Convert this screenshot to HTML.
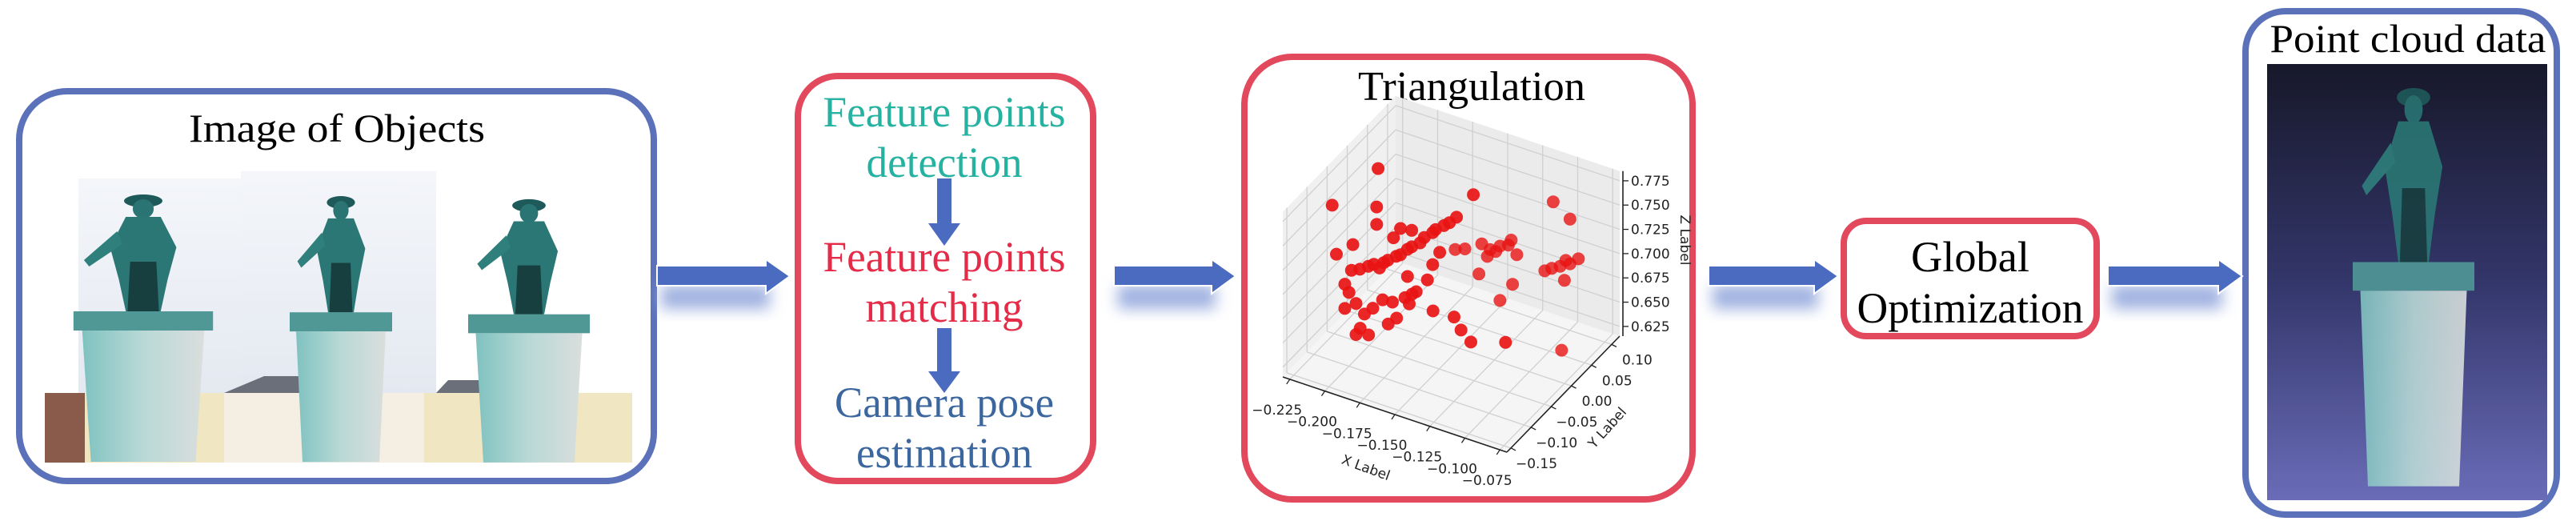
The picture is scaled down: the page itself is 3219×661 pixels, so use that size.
<!DOCTYPE html>
<html><head><meta charset="utf-8"><style>
html,body{margin:0;padding:0;background:#fff;}
svg{display:block;}
</style></head><body>
<svg id="fig" width="3219" height="661" viewBox="0 0 3219 661" xmlns="http://www.w3.org/2000/svg">
<defs>
  <filter id="blur" x="-20%" y="-50%" width="140%" height="200%"><feGaussianBlur stdDeviation="9"/></filter>
  <linearGradient id="sky" x1="0" y1="0" x2="0" y2="1"><stop offset="0" stop-color="#f4f6fa"/><stop offset="1" stop-color="#dfe5ee"/></linearGradient>
  <linearGradient id="ped" x1="0" y1="0" x2="1" y2="0"><stop offset="0" stop-color="#7fc2c0"/><stop offset="0.5" stop-color="#b9d9d6"/><stop offset="1" stop-color="#d9dedd"/></linearGradient>
  <linearGradient id="pc" x1="0" y1="0" x2="0" y2="1"><stop offset="0" stop-color="#17182a"/><stop offset="0.5" stop-color="#33366a"/><stop offset="1" stop-color="#6a6cb8"/></linearGradient>
  <g id="statue">
    <ellipse cx="100" cy="14" rx="22" ry="8" fill="#1f5a5a"/>
    <circle cx="100" cy="24" r="12" fill="#2a7474"/>
    <polygon points="80,34 120,34 138,72 128,112 120,152 80,152 72,112 62,72" fill="#2b7775"/>
    <polygon points="70,52 32,88 38,96 76,68" fill="#2f7f7c"/>
    <polygon points="85,90 115,90 118,152 82,152" fill="#183f40"/>
    <rect x="20" y="152" width="160" height="24" fill="#4f9896"/>
    <polygon points="30,176 170,176 160,340 40,340" fill="url(#ped)"/>
  </g>
</defs>

<rect x="24" y="114" width="793" height="487" rx="60" fill="#fff" stroke="#5b72ba" stroke-width="8"/>
<text x="421" y="177" text-anchor="middle" font-family="Liberation Serif, serif" font-size="50" textLength="370" lengthAdjust="spacingAndGlyphs">Image of Objects</text>
<g>
  <rect x="98" y="223" width="203" height="355" fill="url(#sky)"/>
  <rect x="301" y="214" width="244" height="364" fill="url(#sky)"/>
  <rect x="56" y="491" width="734" height="87" fill="#f1e6c2"/>
  <rect x="56" y="491" width="50" height="87" fill="#8a5a4a"/>
  <polygon points="280,491 330,470 420,470 420,491" fill="#6a6f7a"/>
  <polygon points="545,491 560,475 610,475 630,491" fill="#6a6f7a"/>
  <rect x="280" y="491" width="250" height="87" fill="#f4efe2"/>
  <use href="#statue" transform="translate(70,237) scale(1.09,1)"/>
  <use href="#statue" transform="translate(346,239) scale(0.8,0.995)"/>
  <use href="#statue" transform="translate(566,243) scale(0.95,0.985)"/>
</g>

<rect x="997" y="95" width="369" height="506" rx="50" fill="#fff" stroke="#e2495d" stroke-width="8"/>
<g font-family="Liberation Serif, serif" font-size="54" text-anchor="middle">
<text x="1180" y="158" fill="#26b2a0" textLength="303" lengthAdjust="spacingAndGlyphs">Feature points</text>
<text x="1180" y="221" fill="#26b2a0" textLength="195" lengthAdjust="spacingAndGlyphs">detection</text>
<text x="1180" y="339" fill="#e42c48" textLength="303" lengthAdjust="spacingAndGlyphs">Feature points</text>
<text x="1180" y="402" fill="#e42c48" textLength="197" lengthAdjust="spacingAndGlyphs">matching</text>
<text x="1180" y="521" fill="#3c679e" textLength="274" lengthAdjust="spacingAndGlyphs">Camera pose</text>
<text x="1180" y="584" fill="#3c679e" textLength="220" lengthAdjust="spacingAndGlyphs">estimation</text>
</g>
<g fill="#4a6bbf"><rect x="1171" y="223" width="18" height="58"/><polygon points="1160,279 1200,279 1180,307"/></g>
<g fill="#4a6bbf"><rect x="1171" y="410" width="18" height="56"/><polygon points="1160,464 1200,464 1180,491"/></g>

<rect x="1555" y="71" width="560" height="553" rx="60" fill="#fff" stroke="#e2495d" stroke-width="8"/>
<text x="1839" y="125" text-anchor="middle" font-family="Liberation Serif, serif" font-size="52" textLength="284" lengthAdjust="spacingAndGlyphs">Triangulation</text>
<g id="plot"></g>

<rect x="2304" y="276" width="316" height="144" rx="28" fill="#fff" stroke="#e2495d" stroke-width="8"/>
<text x="2462" y="339" text-anchor="middle" font-family="Liberation Serif, serif" font-size="54" textLength="148" lengthAdjust="spacingAndGlyphs">Global</text>
<text x="2462" y="403" text-anchor="middle" font-family="Liberation Serif, serif" font-size="54" textLength="283" lengthAdjust="spacingAndGlyphs">Optimization</text>

<rect x="2806" y="14" width="389" height="629" rx="50" fill="#fff" stroke="#5b72ba" stroke-width="8"/>
<text x="3009" y="65" text-anchor="middle" font-family="Liberation Serif, serif" font-size="50" textLength="345" lengthAdjust="spacingAndGlyphs">Point cloud data</text>
<g>
  <rect x="2833" y="80" width="350" height="545" fill="url(#pc)"/>
  <use href="#statue" transform="translate(2921,101) scale(0.95,1.49)" opacity="0.9"/>
</g>

<g id="arrows"></g>
</svg>
<script>
const arrowSpans = [[821, 987], [1392, 1544], [2135, 2297], [2634, 2802]];
const NS = 'http://www.w3.org/2000/svg';
const arrowsG = document.getElementById('arrows');
arrowSpans.forEach((s, i) => {
  const g = document.createElementNS(NS, 'g');
  
  
  const sh = document.createElementNS(NS, 'rect');
  sh.setAttribute('x', s[0] + 5); sh.setAttribute('y', 356);
  sh.setAttribute('width', s[1] - s[0] - 30); sh.setAttribute('height', 30);
  sh.setAttribute('fill', '#9fb1e0'); sh.setAttribute('filter', 'url(#blur)');
  g.appendChild(sh);
  const p = document.createElementNS(NS, 'polygon');
  const hx = s[1] - 30;
  p.setAttribute('points', `${s[0]},332 ${hx},332 ${hx},324 ${s[1]},345 ${hx},367 ${hx},357 ${s[0]},357`);
  p.setAttribute('fill', '#4a6bbf'); p.setAttribute('stroke', '#fff'); p.setAttribute('stroke-width', '2');
  g.appendChild(p);
  arrowsG.appendChild(g);
});

const xTicks = [-0.225, -0.200, -0.175, -0.150, -0.125, -0.100, -0.075];
const xTickLabels = ['\u22120.225', '\u22120.200', '\u22120.175', '\u22120.150', '\u22120.125', '\u22120.100', '\u22120.075'];
const yTicks = [-0.15, -0.10, -0.05, 0.00, 0.05, 0.10];
const yTickLabels = ['\u22120.15', '\u22120.10', '\u22120.05', '0.00', '0.05', '0.10'];
const zTicks = [0.625, 0.650, 0.675, 0.700, 0.725, 0.750, 0.775];
const zTickLabels = ['0.625', '0.650', '0.675', '0.700', '0.725', '0.750', '0.775'];
const ptX = [-0.208,-0.212,-0.140,-0.106,-0.094,-0.209,-0.209,-0.192,-0.184,-0.197,
 -0.204,-0.195,-0.187,-0.178,-0.169,-0.161,-0.152,-0.201,-0.192,-0.184,-0.175,-0.167,-0.157,
 -0.211,-0.207,-0.215,-0.221,-0.227,-0.226,-0.209,
 -0.203,-0.195,-0.189,-0.183,-0.176,-0.169,-0.192,-0.186,-0.195,-0.172,-0.166,-0.157,-0.155,-0.152,-0.160,-0.200,-0.203,-0.140,-0.144,-0.125,-0.120,-0.113,
 -0.187,-0.169,-0.164,
 -0.157,-0.151,-0.144,-0.138,-0.132,-0.136,-0.153,-0.147,-0.144,-0.135,-0.169,-0.176,-0.159,
 -0.112,-0.107,-0.101,-0.097,-0.094,-0.088,-0.098,-0.100,-0.117];
const ptY = [0,-0.1,0,0.08,0.08,0,0,0,0,0,
 0,0,0,0,0,0,0,0,0,0,0,0,0,
 0,0,0,0,0,0,-0.1,
 -0.1,-0.1,-0.1,-0.1,-0.1,-0.1,-0.1,-0.1,-0.1,-0.1,-0.1,-0.1,-0.1,-0.1,-0.1,-0.1,-0.1,-0.1,-0.1,-0.1,-0.1,-0.1,
 0,0,0,
 0.08,0.08,0.08,0.08,0.08,0.08,0.08,0.08,0.08,0.08,0.08,0.08,0.08,
 0.08,0.08,0.08,0.08,0.08,0.08,0.08,0.08,0];
const ptZ = [0.772,0.775,0.778,0.753,0.741,0.732,0.714,0.718,0.720,0.706,
 0.677,0.688,0.699,0.710,0.725,0.736,0.749,0.681,0.691,0.703,0.717,0.729,0.741,
 0.672,0.670,0.668,0.662,0.658,0.685,0.726,
 0.673,0.682,0.674,0.683,0.695,0.696,0.658,0.654,0.650,0.672,0.681,0.700,0.711,0.715,0.705,0.691,0.698,0.701,0.731,0.702,0.691,0.682,
 0.671,0.692,0.707,
 0.685,0.682,0.689,0.693,0.686,0.699,0.674,0.682,0.633,0.654,0.674,0.670,0.653,
 0.679,0.684,0.689,0.697,0.695,0.703,0.676,0.603,0.637];

const XMIN = -0.23, XMAX = -0.07, YMIN = -0.16, YMAX = 0.12, ZMIN = 0.615, ZMAX = 0.785;
function P(x, y, z) {
  const tx = (x - XMIN) / (XMAX - XMIN), ty = (y - YMIN) / (YMAX - YMIN);
  return [1603 + tx * 280 + ty * 141, 471 + tx * 94 - ty * 145 - (z - ZMIN) * 1213];
}
const plot = document.getElementById('plot');
function el(tag, attrs, parent) {
  const e = document.createElementNS(NS, tag);
  for (const k in attrs) e.setAttribute(k, attrs[k]);
  (parent || plot).appendChild(e);
  return e;
}
function poly(pts, fill, name) {
  const e = el('polygon', {points: pts.map(p => p.join(',')).join(' '), fill: fill, stroke: 'none'});
  
  
}
poly([P(XMIN,YMIN,ZMIN),P(XMAX,YMIN,ZMIN),P(XMAX,YMAX,ZMIN),P(XMIN,YMAX,ZMIN)], '#f5f5f5', 'floor-pane');
poly([P(XMIN,YMIN,ZMIN),P(XMIN,YMAX,ZMIN),P(XMIN,YMAX,ZMAX),P(XMIN,YMIN,ZMAX)], '#f0f0f0', 'left-pane');
poly([P(XMIN,YMAX,ZMIN),P(XMAX,YMAX,ZMIN),P(XMAX,YMAX,ZMAX),P(XMIN,YMAX,ZMAX)], '#ebebeb', 'back-pane');
function line(a, b, stroke, w, name) {
  const e = el('line', {x1: a[0], y1: a[1], x2: b[0], y2: b[1], stroke: stroke, 'stroke-width': w});
  
  
}
const gc = '#d0d0d0';
xTicks.forEach(x => { line(P(x,YMIN,ZMIN), P(x,YMAX,ZMIN), gc, 1.3, 'x-gridline'); line(P(x,YMAX,ZMIN), P(x,YMAX,ZMAX), gc, 1.3, 'x-gridline'); });
yTicks.forEach(y => { line(P(XMIN,y,ZMIN), P(XMAX,y,ZMIN), gc, 1.3, 'y-gridline'); line(P(XMIN,y,ZMIN), P(XMIN,y,ZMAX), gc, 1.3, 'y-gridline'); });
zTicks.forEach(z => { line(P(XMIN,YMIN,z), P(XMIN,YMAX,z), gc, 1.3, 'z-gridline'); line(P(XMIN,YMAX,z), P(XMAX,YMAX,z), gc, 1.3, 'z-gridline'); });
line(P(XMIN,YMIN,ZMIN), P(XMAX,YMIN,ZMIN), '#222', 1.6, 'x-axis-line');
line(P(XMAX,YMIN,ZMIN), P(XMAX,YMAX,ZMIN), '#222', 1.6, 'y-axis-line');
const za = P(XMAX,YMAX,ZMIN), zb = P(XMAX,YMAX,ZMAX);
line([za[0]+4, za[1]], [zb[0]+4, zb[1]], '#222', 1.6, 'z-axis-line');

const order = ptX.map((_, i) => i).sort((a, b) => ptY[b] - ptY[a]);
order.forEach(i => {
  const p = P(ptX[i], ptY[i], ptZ[i]);
  const c = el('circle', {cx: p[0].toFixed(1), cy: p[1].toFixed(1), r: 8, fill: '#e81414', 'fill-opacity': ptY[i] > 0.05 ? 0.8 : 0.92});
  
  
});

const lblFont = 'DejaVu Sans, Liberation Sans, sans-serif';
function txt(x, y, s, anchor, name, extra) {
  const t = el('text', Object.assign({x: x, y: y, 'font-family': lblFont, 'font-size': 17, fill: '#222', 'text-anchor': anchor}, extra || {}));
  t.textContent = s;
  
  
  return t;
}
xTicks.forEach((x, i) => {
  const p = P(x, YMIN, ZMIN);
  line(p, [p[0] - 4, p[1] + 6], '#222', 1.3, 'x-tick');
  txt(p[0] - 16, p[1] + 44, xTickLabels[i], 'middle', 'x-tick-label');
});
yTicks.forEach((y, i) => {
  const p = P(XMAX, y, ZMIN);
  line(p, [p[0] + 6, p[1] + 3], '#222', 1.3, 'y-tick');
  txt(p[0] + 32, p[1] + 25, yTickLabels[i], 'middle', 'y-tick-label');
});
zTicks.forEach((z, i) => {
  const p = P(XMAX, YMAX, z);
  line([p[0]+4, p[1]], [p[0] + 11, p[1]], '#222', 1.3, 'z-tick');
  txt(p[0] + 14, p[1] + 6, zTickLabels[i], 'start', 'z-tick-label');
});
txt(1707, 590, 'X Label', 'middle', 'x-axis-title', {transform: 'rotate(20 1707 584)'});
txt(2009, 540, 'Y Label', 'middle', 'y-axis-title', {transform: 'rotate(-48 2009 535)'});
txt(2100, 300, 'Z Label', 'middle', 'z-axis-title', {transform: 'rotate(90 2100 300)'});
</script>
</body></html>
